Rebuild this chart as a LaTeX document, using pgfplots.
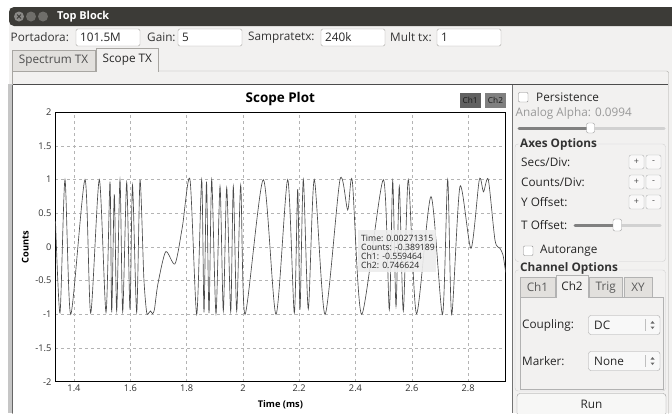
\documentclass[border=0pt]{standalone}
\usepackage{fontspec}
\setmainfont{Open Sans}
\usepackage{pgfplots}
\pgfplotsset{compat=1.18}
\definecolor{winbg}{HTML}{F2F1F0}
\definecolor{titlebar}{HTML}{3C3B37}
\definecolor{bordc}{HTML}{A8A6A2}
\definecolor{tabc}{HTML}{E2E0DD}
\definecolor{gridc}{HTML}{B4B4B4}
\definecolor{sigc}{HTML}{4A4A4A}

\begin{document}
\begin{tikzpicture}[x=1bp,y=-1bp,font=\fontsize{11.8}{13}\selectfont]
\path[use as bounding box] (0,0) rectangle (672,413);
\fill[white] (0,0) rectangle (672,413);

% window frame
\fill[winbg] (9,8) rectangle (672,413);
\fill[titlebar,rounded corners=5bp] (9,26) |- (680,7) -- (680,26) -- cycle;
\foreach \cx/\cc in {19/8A8986,31/6F6E6A,43/6F6E6A}{
  \definecolor{tmp}{HTML}{\cc}
  \fill[tmp] (\cx,16.5) circle (5bp);
}
\draw[titlebar,line width=1bp] (17,14.5) -- (21,18.5) (21,14.5) -- (17,18.5);
\node[anchor=west,inner sep=0,text=white,font=\fontsize{11}{13}\selectfont\bfseries] at (57,16.5) {Top Block};

% entry row
\foreach \lx/\lab/\fx/\val in {10.5/Portadora:/76/101.5M, 147/Gain:/178/5, 248/Sampratetx:/321/240k, 390/Mult tx:/437/1}{
  \node[anchor=west,inner sep=0,text=black!80] at (\lx,37.5) {\lab};
  \draw[bordc,fill=white,rounded corners=1.5bp] (\fx,29) rectangle ++(64,17);
  \node[anchor=west,inner sep=0,text=black!85] at (\fx+4,37.5) {\val};
}

% notebook tabs
\draw[bordc,fill=tabc] (12,71) |- (95,50) -- (95,71);
\node[text=black!70] at (53.5,61) {Spectrum TX};
\draw[bordc,fill=winbg] (96,71.5) |- (158.5,48) -- (158.5,71.5);
\node[text=black!85] at (127.3,60) {Scope TX};
\draw[bordc,rounded corners=2bp] (158.5,71) -- (668.5,71) -- (668.5,420);
\draw[bordc] (96,71) -- (12,71) -- (12,420);

% plot page
\fill[gray!45] (8,84) rectangle (12.5,413);
\fill[white] (12.5,84.5) rectangle (512,413);
\draw[black!70,line width=0.8bp] (12.5,84.5) -- (668,84.5);
\draw[black!60] (12.5,84.5) -- (12.5,413);

\begin{axis}[
  at={(55bp,-381.7bp)}, anchor=south west,
  scale only axis, width=450.7bp, height=269.4bp,
  xmin=1.3325, xmax=2.9336, ymin=-2, ymax=2,
  xtick={1.4,1.6,1.8,2,2.2,2.4,2.6,2.8},
  ytick={-2,-1.5,-1,-0.5,0,0.5,1,1.5,2},
  major tick length=0pt,
  grid=major,
  major grid style={gridc,dash pattern=on 3bp off 3bp,line width=0.6bp},
  axis line style={black,line width=0.9bp},
  tick label style={font=\fontsize{9.3}{11}\selectfont,text=black!80},
  /pgf/number format/assume math mode=true,
  xlabel={Time (ms)}, ylabel={Counts},
  label style={font=\fontsize{9.3}{11}\selectfont\bfseries},
  xlabel style={yshift=-2bp},
  title={Scope Plot},
  title style={font=\fontsize{13.5}{15}\selectfont\bfseries,yshift=-3bp},
]
\addplot[sigc,line width=0.65bp,smooth,tension=0.45] coordinates {
 (1.3343,0.38) (1.3503,-0.98) (1.3680,1.00) (1.3883,-1.00) (1.4391,1.00)
 (1.4593,-0.98) (1.4899,1.00) (1.5137,-0.97) (1.5279,0.97) (1.5339,-0.97)
 (1.5432,0.78) (1.5517,-0.95) (1.5634,1.00) (1.5730,-0.96) (1.5872,0.96)
 (1.5989,-0.93) (1.6078,0.92) (1.6227,-0.97) (1.6345,0.99) (1.6480,-0.45)
 (1.6580,-0.97) (1.6655,-0.98) (1.6720,-0.95) (1.6790,-0.99) (1.6860,-0.92)
 (1.6980,-0.55) (1.7258,-0.07) (1.7588,-0.25) (1.7850,0.30) (1.8121,1.00)
 (1.8359,-1.00) (1.8536,1.00) (1.8618,-0.97) (1.8707,0.97) (1.8796,-0.98)
 (1.8892,1.00) (1.9044,-0.99) (1.9187,0.90) (1.9304,-0.95) (1.9425,0.88)
 (1.9567,-0.96) (1.9659,0.90) (1.9780,-0.95) (1.9922,0.92) (2.0075,-1.00)
 (2.0725,1.00) (2.1176,-1.00) (2.1591,1.00) (2.1826,-0.98) (2.1947,0.86)
 (2.2028,-0.93) (2.2146,1.00) (2.2323,-0.92) (2.2536,1.00) (2.2917,-1.00)
 (2.3449,1.00) (2.3723,0.55) (2.3886,0.98) (2.4220,-1.00) (2.4988,1.00)
 (2.5201,-0.93) (2.5322,0.98) (2.5439,-0.88) (2.5556,0.90) (2.5698,-0.95)
 (2.5876,1.00) (2.6167,-0.99) (2.6682,0.75) (2.7091,-1.00) (2.7275,1.00)
 (2.7417,-1.00) (2.7712,0.90) (2.8103,-0.02) (2.8398,1.00) (2.8547,0.82)
 (2.8718,1.00) (2.8956,0.10) (2.9133,-0.02) (2.9240,-0.12) (2.9336,-0.38)
};
\end{axis}

% channel buttons
\fill[black!62] (460,92.5) rectangle (480.5,107.5);
\node[font=\fontsize{8.3}{10}\selectfont,text=black!90] at (470.2,100) {Ch1};
\fill[black!50] (485,92.5) rectangle (506,107.5);
\node[font=\fontsize{8.3}{10}\selectfont,text=black!90] at (495.5,100) {Ch2};

% cursor readout
\fill[gray!14,opacity=0.9] (358,229.5) rectangle (436,272);
\begin{scope}[font=\fontsize{8.7}{10}\selectfont]
\node[anchor=west,inner sep=0,text=black!85] at (361,238) {Time: 0.00271315};
\node[anchor=west,inner sep=0,text=black!85] at (361,247) {Counts: -0.389189};
\node[anchor=west,inner sep=0,text=black!85] at (361,256.5) {Ch1: -0.559464};
\node[anchor=west,inner sep=0,text=black!85] at (361,265.5) {Ch2: 0.746624};
\end{scope}

% control panel
\fill[winbg] (512.5,85.5) rectangle (668,413);
\draw[black!55] (512.5,84.5) -- (512.5,413);
\draw[black!45,fill=white,rounded corners=1bp] (518.5,92.5) rectangle (528,102);
\node[anchor=west,inner sep=0,text=black!85] at (536,97) {Persistence};
\node[anchor=west,inner sep=0,text=black!40] at (515.5,113) {Analog Alpha: 0.0994};
\draw[line width=3bp,black!18,line cap=round] (519,128) -- (664,128);
\draw[line width=3bp,black!50,line cap=round] (519,128) -- (590,128);
\draw[black!40,fill=white,rounded corners=2bp] (586.5,123) rectangle (594.5,133);

\draw[black!18,rounded corners=3bp] (515,144) rectangle (665.5,261.5);
\node[anchor=west,inner sep=1bp,fill=winbg,text=black!80,font=\fontsize{11.8}{13}\selectfont\bfseries] at (519,144) {Axes Options};
\foreach \yy/\lab in {162/{Secs/Div:},182/{Counts/Div:},202/{Y Offset:}}{
  \node[anchor=west,inner sep=0,text=black!85] at (521,\yy) {\lab};
  \draw[black!30,fill=white!60!winbg,rounded corners=2bp] (629,\yy-7) rectangle (644,\yy+7);
  \node[text=black!70,font=\fontsize{9}{10}\selectfont] at (636.5,\yy) {+};
  \draw[black!30,fill=white!60!winbg,rounded corners=2bp] (646,\yy-7) rectangle (661,\yy+7);
  \node[text=black!70,font=\fontsize{9}{10}\selectfont] at (653.5,\yy) {-};
}
\node[anchor=west,inner sep=0,text=black!85] at (521,225) {T Offset:};
\draw[line width=3bp,black!18,line cap=round] (575,225) -- (660,225);
\draw[line width=3bp,black!50,line cap=round] (575,225) -- (617,225);
\draw[black!40,fill=white,rounded corners=2bp] (613,219) rectangle (621.5,231);
\draw[black!45,fill=white,rounded corners=1bp] (523.5,246) rectangle (533,255.5);
\node[anchor=west,inner sep=0,text=black!85] at (540,251) {Autorange};

\draw[black!18,rounded corners=3bp] (515,270) rectangle (665.5,391);
\node[anchor=west,inner sep=1bp,fill=winbg,text=black!80,font=\fontsize{11.8}{13}\selectfont\bfseries] at (519,268) {Channel Options};
\draw[black!30] (520,297) rectangle (663,389);
\fill[winbg] (520.5,297.5) rectangle (662.5,388.5);
\foreach \xa/\xb/\lab in {520/555/Ch1,589/622.5/Trig,624/652/XY}{
  \draw[black!30,fill=tabc] (\xa,297) |- (\xb,277.5) -- (\xb,297);
  \node[text=black!65] at ({(\xa+\xb)/2},287.5) {\lab};
}
\draw[black!30,fill=winbg] (556,297.5) |- (588,275) -- (588,297.5);
\node[text=black!85] at (572,286.5) {Ch2};

\foreach \yy/\lab/\val in {325/Coupling:/DC,361/Marker:/None}{
  \node[anchor=west,inner sep=0,text=black!85] at (522,\yy) {\lab};
  \draw[black!35,fill=white!50!winbg,rounded corners=2.5bp] (588.5,\yy-9.5) rectangle (660,\yy+9.5);
  \node[anchor=west,inner sep=0,text=black!85] at (594,\yy) {\val};
  \draw[black!25] (645.5,\yy-6) -- (645.5,\yy+6);
  \fill[black!60] (650.5,\yy-1.5) -- (654.5,\yy-1.5) -- (652.5,\yy-4) -- cycle;
  \fill[black!60] (650.5,\yy+1.5) -- (654.5,\yy+1.5) -- (652.5,\yy+4) -- cycle;
}
\draw[black!40,fill=white!40!winbg,rounded corners=3bp] (517,393.5) rectangle (666,416);
\node[text=black!85] at (591.5,404) {Run};
\end{tikzpicture}
\end{document}
